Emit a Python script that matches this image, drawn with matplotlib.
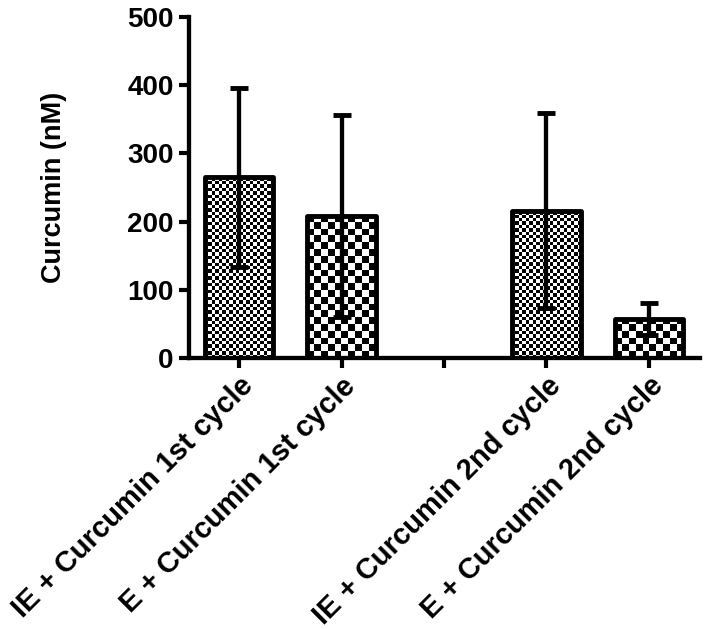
import numpy as np
import matplotlib
matplotlib.use("Agg")
import matplotlib.pyplot as plt

# ---- data ----
categories = ["IE + Curcumin 1st cycle", "E + Curcumin 1st cycle", "",
              "IE + Curcumin 2nd cycle", "E + Curcumin 2nd cycle"]
means = [265, 208, np.nan, 216, 57]
errors = [131, 148, np.nan, 143, 23]
patterns = ["fine", "coarse", None, "fine", "coarse"]
y_ticks = [0, 100, 200, 300, 400, 500]
y_label = "Curcumin (nM)"

plt.rcParams['font.family'] = ['Liberation Sans', 'DejaVu Sans']
plt.rcParams['font.weight'] = 'bold'

fig = plt.figure(figsize=(7.10, 6.29), dpi=100)
ax = fig.add_axes([0.266, 0.431, 0.72, 0.542])

x = np.arange(len(categories))
width = 0.67
ax.set_xlim(-0.49, 4.5)
ax.set_ylim(0, 500)

valid = [i for i in range(len(categories)) if not np.isnan(means[i])]
xs = [x[i] for i in valid]
vals = [means[i] for i in valid]
errs = [errors[i] for i in valid]

bars_fill = ax.bar(xs, vals, width=width, color='white', edgecolor='none', zorder=1)

# checkerboard textures clipped to bars
trans = ax.transData
px_per_x = (trans.transform((1, 0)) - trans.transform((0, 0)))[0]
px_per_y = (trans.transform((0, 1)) - trans.transform((0, 0)))[1]
cell_px = {"fine": 3.4, "coarse": 6.8}
for i, patch in zip(valid, bars_fill):
    c = cell_px[patterns[i]]
    x0 = patch.get_x()
    w = patch.get_width()
    h = patch.get_height()
    nx = max(1, int(round(w * px_per_x / c)))
    ch = c / px_per_y
    ny = int(np.ceil(h / ch)) + 1
    ii, jj = np.meshgrid(np.arange(nx), np.arange(ny))
    board = ((ii + jj) % 2).astype(float)
    im = ax.imshow(board, cmap='gray', vmin=0, vmax=1, origin='lower',
                   extent=(x0, x0 + w, 0, ny * ch), interpolation='nearest',
                   aspect='auto', zorder=2)
    im.set_clip_path(patch)

ax.bar(xs, vals, width=width, facecolor='none', edgecolor='black',
       linewidth=3.5, joinstyle='round', zorder=3)
ax.errorbar(xs, vals, yerr=errs, fmt='none', ecolor='black', elinewidth=3.1,
            capsize=6.2, capthick=3.5, zorder=4)

ax.set_xlim(-0.49, 4.5)
ax.set_ylim(0, 500)
ax.set_yticks(y_ticks)
ax.set_yticklabels([str(t) for t in y_ticks], fontsize=20, fontweight='bold')
ax.set_xticks(x)
ax.set_xticklabels(categories, rotation=45, ha='right', rotation_mode='anchor',
                   fontsize=21, fontweight='bold')
ax.set_ylabel(y_label, fontsize=19.5, fontweight='bold', labelpad=43)

for s in ['top', 'right']:
    ax.spines[s].set_visible(False)
for s in ['left', 'bottom']:
    ax.spines[s].set_linewidth(3.1)
ax.spines['left'].set_capstyle('projecting')
ax.tick_params(axis='both', width=3, length=7, direction='out', pad=4)
ax.tick_params(axis='x', pad=3)

fig.savefig("out.png", dpi=100)
